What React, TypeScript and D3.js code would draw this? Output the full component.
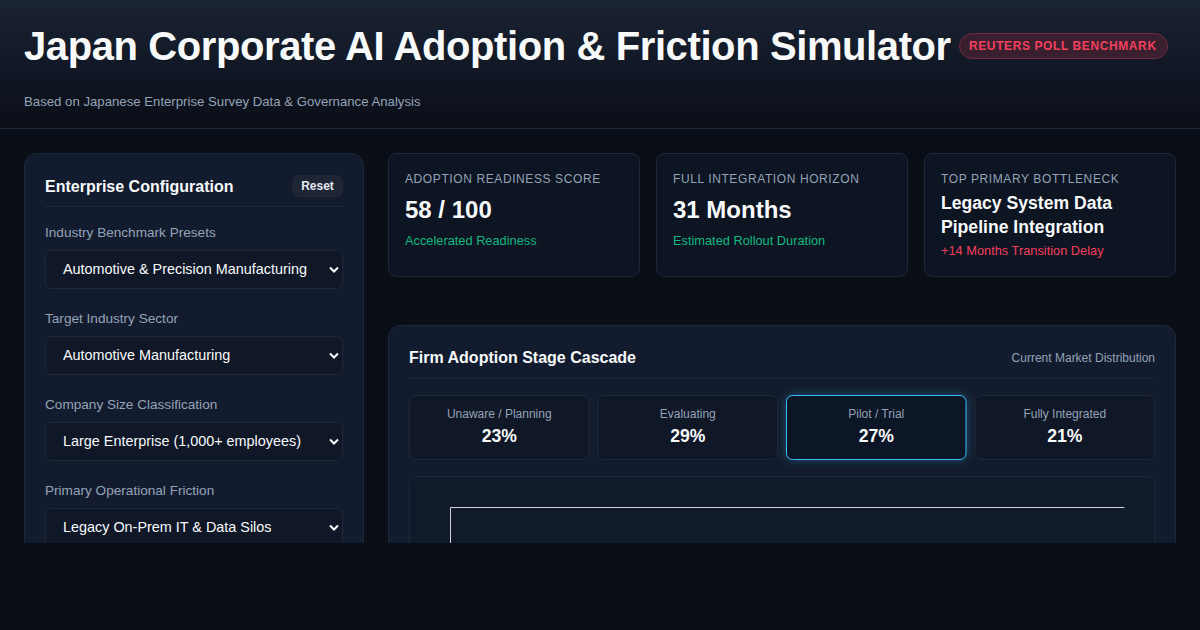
import { useEffect, useRef } from "react";
import * as d3 from "d3";

const stageLabels = ["Unaware / Planning", "Evaluating", "Pilot / Trial", "Fully Integrated"];
const stageShares = [23, 29, 27, 21];
const activeStage = "Pilot / Trial";

const configLabels = [
  "Industry Benchmark Presets",
  "Target Industry Sector",
  "Company Size Classification",
  "Primary Operational Friction",
];
const configValues = [
  "Automotive & Precision Manufacturing",
  "Automotive Manufacturing",
  "Large Enterprise (1,000+ employees)",
  "Legacy On-Prem IT & Data Silos",
];

const kpiLabels = ["ADOPTION READINESS SCORE", "FULL INTEGRATION HORIZON", "TOP PRIMARY BOTTLENECK"];
const kpiValues = [["58 / 100"], ["31 Months"], ["Legacy System Data", "Pipeline Integration"]];
const kpiNotes = ["Accelerated Readiness", "Estimated Rollout Duration", "+14 Months Transition Delay"];
const kpiNoteColors = ["#10b981", "#10b981", "#f43f5e"];

const FONT = "'Liberation Sans', Arial, sans-serif";
const BG = "#0a0e17";
const PANEL = "#131c2e";
const KPI_CARD = "#0d1422";
const CARD = "#101727";
const BORDER = "#1e293b";

const App = () => {
  const plotRef = useRef<SVGGElement | null>(null);

  useEffect(() => {
    // empty chart frame, the page is cut off before the plot gets drawn
    const g = d3.select(plotRef.current);
    g.selectAll("*").remove();
    const x = d3.scaleLinear().domain([0, 100]).range([450, 1124]);
    const y = d3.scaleLinear().domain([0, 100]).range([760, 507]);
    g.append("g")
      .attr("transform", "translate(0,507)")
      .call(d3.axisTop(x).ticks(0).tickSize(0))
      .call((a) => a.select(".domain").attr("stroke", "#cfd2d6"));
    g.append("g")
      .attr("transform", "translate(450,0)")
      .call(d3.axisLeft(y).ticks(0).tickSize(0))
      .call((a) => a.select(".domain").attr("stroke", "#cfd2d6"));
  }, []);

  const kpiX = d3.scaleBand<number>().domain([0, 1, 2]).range([388, 1176]).paddingInner(16 / 268);
  const stageX = d3
    .scaleBand<string>()
    .domain(stageLabels)
    .range([409, 1155])
    .paddingInner(8 / 188.5);
  const rowY = d3.scaleBand<string>().domain(configLabels).range([215, 559]).padding(0);

  return (
    <>
      <style>{`body{margin:0;background:${BG}}`}</style>
      <svg width={1200} height={630} style={{ display: "block", fontFamily: FONT }}>
        <defs>
          <linearGradient id="head" x1="0" y1="0" x2="0" y2="1">
            <stop offset="0" stopColor="#1a2334" />
            <stop offset="1" stopColor={BG} />
          </linearGradient>
          <clipPath id="page">
            <rect x={0} y={0} width={1200} height={543} />
          </clipPath>
          <filter id="glow" x="-20%" y="-40%" width="140%" height="180%">
            <feDropShadow dx="0" dy="0" stdDeviation="5" floodColor="#38bdf8" floodOpacity="0.3" />
          </filter>
        </defs>
        <rect width={1200} height={630} fill={BG} />
        <rect width={1200} height={128} fill="url(#head)" />
        <line x1={0} x2={1200} y1={128.5} y2={128.5} stroke={BORDER} />
        <text x={24} y={60} fontSize={40} fontWeight={700} fill="#f8fafc" letterSpacing={-0.4}>
          Japan Corporate AI Adoption &amp; Friction Simulator
        </text>
        <rect x={959.5} y={33.5} width={208} height={25} rx={12.5} fill="#3a1f2f" stroke="#6d2a40" />
        <text x={969} y={50} fontSize={12} fontWeight={700} fill="#f43f5e" letterSpacing={0.6}>
          REUTERS POLL BENCHMARK
        </text>
        <text x={24} y={106} fontSize={13.2} fill="#94a3b8">
          Based on Japanese Enterprise Survey Data &amp; Governance Analysis
        </text>

        <g clipPath="url(#page)">
          {/* config panel */}
          <rect x={24.5} y={153.5} width={339} height={460} rx={12} fill={PANEL} stroke={BORDER} />
          <text x={45} y={192} fontSize={16} fontWeight={700} fill="#f8fafc">
            Enterprise Configuration
          </text>
          <rect x={292} y={175} width={51} height={22} rx={6} fill="#1e2535" />
          <text x={317.5} y={190} fontSize={12} fontWeight={700} fill="#e2e8f0" textAnchor="middle">
            Reset
          </text>
          <line x1={45} x2={343} y1={206.5} y2={206.5} stroke={BORDER} />
          {configLabels.map((label, i) => {
            const top = rowY(label) ?? 0;
            return (
              <g key={label}>
                <text x={45} y={top + 22} fontSize={13.6} fill="#94a3b8">
                  {label}
                </text>
                <rect x={45.5} y={top + 35.5} width={297} height={38} rx={6} fill={CARD} stroke={BORDER} />
                <text x={63} y={top + 59} fontSize={14.4} fill="#f8fafc">
                  {configValues[i]}
                </text>
                <path
                  d={`M330 ${top + 52.5}l4 4l4 -4`}
                  fill="none"
                  stroke="#f8fafc"
                  strokeWidth={2}
                />
              </g>
            );
          })}

          {/* kpi cards */}
          {kpiLabels.map((label, i) => {
            const x0 = kpiX(i) ?? 0;
            const lines = kpiValues[i];
            const multi = lines.length > 1;
            return (
              <g key={label}>
                <rect x={x0 + 0.5} y={153.5} width={kpiX.bandwidth() - 1} height={123} rx={8} fill={KPI_CARD} stroke={BORDER} />
                <text x={x0 + 17} y={183} fontSize={12} fill="#94a3b8" letterSpacing={0.6}>
                  {label}
                </text>
                {lines.map((t, j) => (
                  <text
                    key={t}
                    x={x0 + 17}
                    y={multi ? 209 + j * 24 : 218}
                    fontSize={multi ? 17.6 : 24}
                    fontWeight={700}
                    fill="#f8fafc"
                  >
                    {t}
                  </text>
                ))}
                <text x={x0 + 17} y={multi ? 255 : 245} fontSize={12.8} fill={kpiNoteColors[i]}>
                  {kpiNotes[i]}
                </text>
              </g>
            );
          })}

          {/* cascade panel */}
          <rect x={388.5} y={325.5} width={787} height={300} rx={12} fill={PANEL} stroke={BORDER} />
          <text x={409} y={363} fontSize={16} fontWeight={700} fill="#f8fafc">
            Firm Adoption Stage Cascade
          </text>
          <text x={1155} y={362} fontSize={12} fill="#94a3b8" textAnchor="end">
            Current Market Distribution
          </text>
          <line x1={409} x2={1155} y1={378.5} y2={378.5} stroke={BORDER} />
          {stageLabels.map((label, i) => {
            const x0 = stageX(label) ?? 0;
            const w = stageX.bandwidth();
            const active = label === activeStage;
            return (
              <g key={label}>
                <rect
                  x={x0 + 0.5}
                  y={395.5}
                  width={w - 1}
                  height={64}
                  rx={6}
                  fill={CARD}
                  stroke={active ? "#38bdf8" : BORDER}
                  filter={active ? "url(#glow)" : undefined}
                />
                <text x={x0 + w / 2} y={418} fontSize={12} fill="#94a3b8" textAnchor="middle">
                  {label}
                </text>
                <text x={x0 + w / 2} y={442} fontSize={17.6} fontWeight={700} fill="#f8fafc" textAnchor="middle">
                  {stageShares[i]}%
                </text>
              </g>
            );
          })}
          <rect x={409.5} y={476.5} width={745} height={140} rx={8} fill="#111a2b" stroke={BORDER} />
          <g ref={plotRef} />
        </g>
      </svg>
    </>
  );
};

export default App;
